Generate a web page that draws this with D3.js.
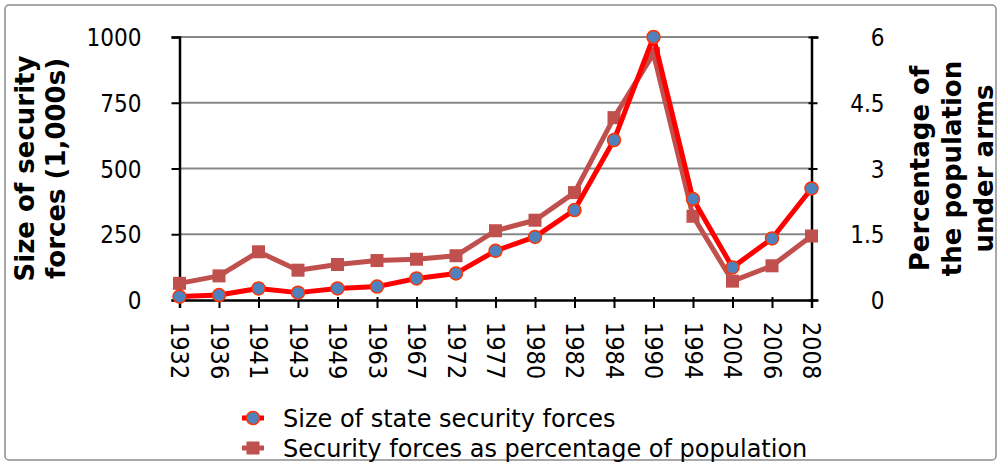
<!DOCTYPE html>
<html>
<head>
<meta charset="utf-8">
<script src="https://cdn.jsdelivr.net/npm/d3@7"></script>
<style>
  body { margin: 0; background: #fff; }
  text { font-family: "DejaVu Sans Condensed", "DejaVu Sans", sans-serif; fill: #000; }
  .wide { font-family: "DejaVu Sans", sans-serif; }
</style>
</head>
<body>
<div class="chart"></div>
<script>
// Data
var years = ["1932", "1936", "1941", "1943", "1949", "1963", "1967", "1972", "1977",
  "1980", "1982", "1984", "1990", "1994", "2004", "2006", "2008"];
// size of state security forces (1,000s) - left axis
var forceSize = [13, 19, 44, 28, 44, 51, 82, 101, 187, 240, 342, 608, 1000, 384, 124, 234, 424];
// security forces as % of population - right axis
var forcePct = [0.38, 0.55, 1.1, 0.68, 0.81, 0.9, 0.93, 1.01, 1.58, 1.82, 2.45, 4.16, 5.62, 1.91, 0.43, 0.78, 1.46];
var leftTicks = [0, 250, 500, 750, 1000];
var rightTicks = [0, 1.5, 3, 4.5, 6];
var legendLabels = ["Size of state security forces", "Security forces as percentage of population"];

var svgWidth = 1002;
var svgHeight = 464;

var plot = { left: 179.5, right: 811.5, top: 37, bottom: 300 };

var svg = d3
  .select(".chart")
  .append("svg")
  .attr("width", svgWidth)
  .attr("height", svgHeight);

// outer border
svg.append("rect")
  .attr("x", 5).attr("y", 5)
  .attr("width", 991).attr("height", 455)
  .attr("rx", 4)
  .attr("fill", "#fff")
  .attr("stroke", "#8c8c8c")
  .attr("stroke-width", 1.5);

var xScale = d3.scalePoint().domain(years).range([plot.left, plot.right]).padding(0);
var yLeft = d3.scaleLinear().domain([0, 1000]).range([plot.bottom, plot.top]);
var yRight = d3.scaleLinear().domain([0, 6]).range([plot.bottom, plot.top]);

// gridlines
svg.append("g")
  .selectAll("line")
  .data(leftTicks.slice(1))
  .enter()
  .append("line")
  .attr("x1", plot.left).attr("x2", plot.right)
  .attr("y1", (d) => yLeft(d)).attr("y2", (d) => yLeft(d))
  .attr("stroke", "#878787")
  .attr("stroke-width", 2);

// left axis
var leftAxis = svg.append("g")
  .attr("transform", `translate(${plot.left},0)`)
  .call(d3.axisLeft(yLeft).tickValues(leftTicks).tickSize(8).tickFormat(d3.format("")));
leftAxis.select(".domain").attr("stroke", "#000").attr("stroke-width", 2.5);
leftAxis.selectAll(".tick line").attr("stroke", "#000").attr("stroke-width", 2).attr("x2", -8).attr("x1", 1);
leftAxis.selectAll(".tick text").attr("font-size", 24).attr("x", -38).attr("dy", "0.36em");

// right axis
var rightAxis = svg.append("g")
  .attr("transform", `translate(${plot.right},0)`)
  .call(d3.axisRight(yRight).tickValues(rightTicks).tickSize(7).tickFormat(d3.format("")));
rightAxis.select(".domain").attr("stroke", "#000").attr("stroke-width", 2.5);
rightAxis.selectAll(".tick line").attr("stroke", "#000").attr("stroke-width", 2).attr("x1", -3).attr("x2", 6);
rightAxis.selectAll(".tick text")
  .attr("font-size", 24)
  .attr("text-anchor", "end")
  .attr("x", 73)
  .attr("dy", "0.36em");

// bottom axis
var bottomAxis = svg.append("g")
  .attr("transform", `translate(0,${plot.bottom})`)
  .call(d3.axisBottom(xScale).tickSize(8));
bottomAxis.select(".domain").attr("stroke", "#000").attr("stroke-width", 2.5);
bottomAxis.selectAll(".tick line").attr("stroke", "#000").attr("stroke-width", 2).attr("y1", -3);
bottomAxis.selectAll(".tick text")
  .attr("font-size", 25)
  .attr("text-anchor", "start")
  .attr("dy", "0.36em")
  .attr("x", 0)
  .attr("y", 0)
  .attr("transform", "translate(0,22) rotate(90)");
svg.selectAll(".domain").attr("fill", "none");

// lines
var pctLine = d3.line().x((d, i) => xScale(years[i])).y((d) => yRight(d));
var sizeLine = d3.line().x((d, i) => xScale(years[i])).y((d) => yLeft(d));

svg.append("path")
  .datum(forcePct)
  .attr("d", pctLine)
  .attr("fill", "none")
  .attr("stroke", "#C0504D")
  .attr("stroke-width", 5)
  .attr("stroke-linejoin", "round");

svg.append("g")
  .selectAll("rect")
  .data(forcePct)
  .enter()
  .append("rect")
  .attr("x", (d, i) => xScale(years[i]) - 6.5)
  .attr("y", (d) => yRight(d) - 6.5)
  .attr("width", 13).attr("height", 13)
  .attr("fill", "#C0504D");

svg.append("path")
  .datum(forceSize)
  .attr("d", sizeLine)
  .attr("fill", "none")
  .attr("stroke", "#FF0000")
  .attr("stroke-width", 5)
  .attr("stroke-linejoin", "round");

svg.append("g")
  .selectAll("circle")
  .data(forceSize)
  .enter()
  .append("circle")
  .attr("cx", (d, i) => xScale(years[i]))
  .attr("cy", (d) => yLeft(d))
  .attr("r", 6.5)
  .attr("fill", "#4F81BD")
  .attr("stroke", "#FF3300")
  .attr("stroke-width", 1.5);

// axis titles
var midY = (plot.top + plot.bottom) / 2;
var leftTitle = svg.append("text")
  .classed("wide", true)
  .attr("transform", `translate(0,${midY}) rotate(-90)`)
  .attr("text-anchor", "middle")
  .attr("font-size", 26)
  .attr("font-weight", "bold");
leftTitle.append("tspan").attr("x", 0).attr("y", 34).text("Size of security");
leftTitle.append("tspan").attr("x", 0).attr("y", 65).text("forces (1,000s)");

var rightTitle = svg.append("text")
  .classed("wide", true)
  .attr("transform", `translate(0,${midY}) rotate(-90)`)
  .attr("text-anchor", "middle")
  .attr("font-size", 26)
  .attr("font-weight", "bold");
["Percentage of", "the population", "under arms"].forEach(function (t, i) {
  rightTitle.append("tspan").attr("x", 0).attr("y", 929 + i * 32).text(t);
});

// legend
var legend = svg.append("g").attr("transform", "translate(253,0)");
var legendY = [418, 448];

legend.append("line")
  .attr("x1", -11).attr("x2", 11)
  .attr("y1", legendY[0]).attr("y2", legendY[0])
  .attr("stroke", "#FF0000").attr("stroke-width", 5);
legend.append("circle")
  .attr("cx", 0).attr("cy", legendY[0]).attr("r", 6.5)
  .attr("fill", "#4F81BD").attr("stroke", "#FF3300").attr("stroke-width", 1.5);

legend.append("line")
  .attr("x1", -11).attr("x2", 11)
  .attr("y1", legendY[1]).attr("y2", legendY[1])
  .attr("stroke", "#C0504D").attr("stroke-width", 5);
legend.append("rect")
  .attr("x", -6.5).attr("y", legendY[1] - 6.5)
  .attr("width", 13).attr("height", 13)
  .attr("fill", "#C0504D");

legend.selectAll(".legendText")
  .data(legendLabels)
  .enter()
  .append("text")
  .classed("legendText", true)
  .classed("wide", true)
  .attr("x", 30)
  .attr("y", (d, i) => legendY[i])
  .attr("dy", "0.36em")
  .attr("font-size", 24)
  .text((d) => d);
</script>
</body>
</html>
